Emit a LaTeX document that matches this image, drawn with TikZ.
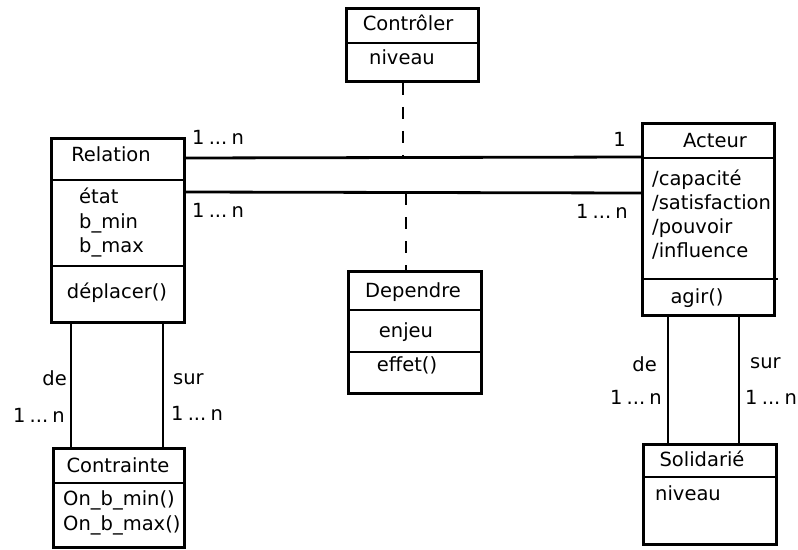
\documentclass[tikz,border=0pt]{standalone}
\usepackage{fontspec}
\setmainfont{DejaVu Sans}
\frenchspacing
\newcommand{\oneton}{1\hspace{4.2pt}...\hspace{4.2pt}n}
\begin{document}
\begin{tikzpicture}[x=1pt,y=-1pt,
  box/.style={draw,line width=2.8pt,inner sep=0pt,anchor=north west},
  divider/.style={line width=2.8pt},
  conn/.style={line width=2.8pt},
  depline/.style={line width=2.8pt,dash pattern=on 12pt off 12pt},
  txt/.style={inner sep=0pt,font=\fontsize{19.5}{23}\selectfont},
  lt/.style={txt,anchor=base west},
  ct/.style={txt,anchor=base},
  rt/.style={txt,anchor=base east}]
\useasboundingbox (0,0) rectangle (798,549);

% boxes
\node[box,minimum width=132pt,minimum height=73pt] (ctrl) at (345,7) {};
\node[box,minimum width=133pt,minimum height=184pt] (rel) at (50,137) {};
\node[box,minimum width=132pt,minimum height=192pt] (act) at (641,122) {};
\node[box,minimum width=133pt,minimum height=122pt] (depn) at (347,270) {};
\node[box,minimum width=131pt,minimum height=99pt] (con) at (52,447) {};
\node[box,minimum width=133pt,minimum height=100pt] (sol) at (642,443) {};

% dividers
\draw[divider] (ctrl.west |- 0,43) -- (ctrl.east |- 0,43);
\draw[divider] (rel.west |- 0,180) -- (rel.east |- 0,180);
\draw[divider] (rel.west |- 0,266) -- (rel.east |- 0,266);
\draw[divider] (act.west |- 0,158) -- (act.east |- 0,158);
\draw[divider] (act.west |- 0,279) -- ([xshift=2pt]act.east |- 0,279);
\draw[divider] (depn.west |- 0,310) -- (depn.east |- 0,310);
\draw[divider] (depn.west |- 0,352) -- (depn.east |- 0,352);
\draw[divider] (con.west |- 0,483) -- (con.east |- 0,483);
\draw[divider] (sol.west |- 0,477) -- (sol.east |- 0,477);

% connectors
\draw[conn] (rel.east |- 0,158) -- (act.west |- 0,157);
\draw[conn] (rel.east |- 0,192) -- (act.west |- 0,193);
\coordinate (jup) at (403,157);
\coordinate (jdown) at (406,193);
\draw[depline] (403,0 |- ctrl.south) -- (jup);
\draw[depline] (jdown) -- (406,0 |- depn.north);
\draw[conn] (71,0 |- rel.south) -- (71,0 |- con.north);
\draw[conn] (163,0 |- rel.south) -- (163,0 |- con.north);
\draw[conn] (668,0 |- act.south) -- (668,0 |- sol.north);
\draw[conn] (739,0 |- act.south) -- (739,0 |- sol.north);

% texts: Controler
\node[ct] (t1) at (408,30) {Contrôler};
\node[ct] (t2) at (402,64) {niveau};
% Relation
\node[ct] (t3) at (111,161.5) {Relation};
\node[lt] (t4) at (79,203) {état};
\node[lt] (t5) at (79,228) {b\_min};
\node[lt] (t6) at (79,252) {b\_max};
\node[ct] (t7) at (117,298) {déplacer()};
% Acteur
\node[ct] (t8) at (715,147) {Acteur};
\node[lt] (t9) at (652,185) {/capacité};
\node[lt] (t10) at (652,209) {/satisfaction};
\node[lt] (t11) at (652,233) {/pouvoir};
\node[lt] (t12) at (652,257) {/influence};
\node[ct] (t13) at (697,303) {agir()};
% Dependre
\node[ct] (t14) at (413,297) {Dependre};
\node[ct] (t15) at (406,337) {enjeu};
\node[ct] (t16) at (407,371) {effet()};
% Contrainte
\node[ct] (t17) at (118,472) {Contrainte};
\node[lt] (t18) at (63,505) {On\_b\_min()};
\node[lt] (t19) at (63,530) {On\_b\_max()};
% Solidarie
\node[ct] (t20) at (702,466) {Solidarié};
\node[lt] (t21) at (655,500) {niveau};
% multiplicities
\node[lt] (m1) at (192,144) {\oneton};
\node[lt] (m2) at (192,217) {\oneton};
\node[rt] (m3) at (626,146) {1};
\node[rt] (m4) at (628,218) {\oneton};
\node[rt] (m5) at (67,385) {de};
\node[rt] (m6) at (65,422) {\oneton};
\node[lt] (m7) at (173,384) {sur};
\node[lt] (m8) at (171,420) {\oneton};
\node[rt] (m9) at (657,371) {de};
\node[rt] (m10) at (662,404) {\oneton};
\node[lt] (m11) at (750,368) {sur};
\node[lt] (m12) at (745,404) {\oneton};
\end{tikzpicture}
\end{document}
